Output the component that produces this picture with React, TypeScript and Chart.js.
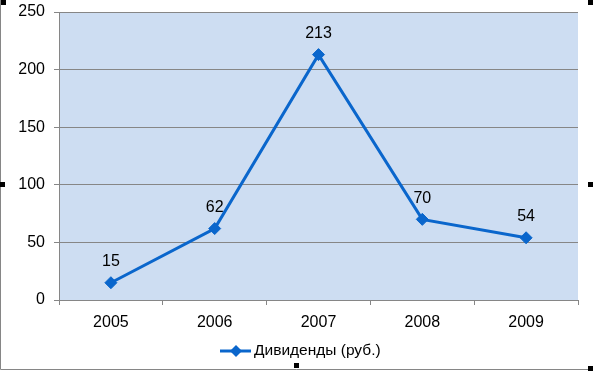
import React, { useEffect, useRef } from "react";
import { Chart, registerables } from "chart.js";

Chart.register(...registerables);

const categories = ["2005", "2006", "2007", "2008", "2009"];
const dividends = [15, 62, 213, 70, 54];
const seriesLabel = "Дивиденды (руб.)";
const yTicks = [0, 50, 100, 150, 200, 250];

const LINE_COLOR = "#0A66CC";
const PLOT_BG = "#CDDDF2";
const AXIS_GRAY = "#868686";
const FONT = "Arial, 'Liberation Sans', sans-serif";

const decorPlugin = {
  id: "decor",
  beforeDraw(chart: any) {
    const { ctx, chartArea } = chart;
    ctx.save();
    ctx.fillStyle = "#ffffff";
    ctx.fillRect(0, 0, chart.width, chart.height);
    ctx.fillStyle = PLOT_BG;
    ctx.fillRect(chartArea.left, chartArea.top, chartArea.right - chartArea.left, chartArea.bottom - chartArea.top);
    ctx.restore();
  },
  afterDraw(chart: any) {
    const { ctx } = chart;
    ctx.save();
    ctx.strokeStyle = AXIS_GRAY;
    ctx.lineWidth = 1;
    ctx.beginPath();
    ctx.moveTo(0.5, 0);
    ctx.lineTo(0.5, 369.5);
    ctx.lineTo(593, 369.5);
    ctx.stroke();
    const meta = chart.getDatasetMeta(0);
    ctx.fillStyle = "#000000";
    ctx.font = `16px ${FONT}`;
    ctx.textAlign = "center";
    ctx.textBaseline = "middle";
    meta.data.forEach((pt: any, i: number) => {
      ctx.fillText(String(dividends[i]), pt.x, pt.y - 21);
    });
    const ly = 351;
    ctx.strokeStyle = LINE_COLOR;
    ctx.lineWidth = 3;
    ctx.beginPath();
    ctx.moveTo(220, ly);
    ctx.lineTo(251, ly);
    ctx.stroke();
    ctx.fillStyle = LINE_COLOR;
    ctx.beginPath();
    ctx.moveTo(236, ly - 6);
    ctx.lineTo(242, ly);
    ctx.lineTo(236, ly + 6);
    ctx.lineTo(230, ly);
    ctx.closePath();
    ctx.fill();
    ctx.fillStyle = "#000000";
    ctx.font = `15.5px ${FONT}`;
    ctx.textAlign = "left";
    ctx.fillText(seriesLabel, 254, ly);
    ctx.fillStyle = "#000000";
    const handles = [
      [1, 0], [588, 0], [0, 182], [588, 182], [294, 363], [588, 366],
    ];
    handles.forEach(([x, y]) => ctx.fillRect(x, y, 5, 5));
    ctx.restore();
  },
};

export default function App() {
  const ref = useRef<HTMLCanvasElement | null>(null);
  useEffect(() => {
    document.body.style.margin = "0";
    const chart = new Chart(ref.current as HTMLCanvasElement, {
      type: "line",
      data: {
        labels: categories,
        datasets: [
          {
            label: seriesLabel,
            data: dividends,
            borderColor: LINE_COLOR,
            backgroundColor: LINE_COLOR,
            borderWidth: 3,
            pointStyle: "rectRot",
            pointRadius: 6,
            pointBorderWidth: 1,
            tension: 0,
          },
        ],
      },
      options: {
        responsive: false,
        animation: false,
        layout: { padding: { left: 0, top: 12, right: 15, bottom: 0 } },
        plugins: { legend: { display: false }, tooltip: { enabled: false } },
        scales: {
          x: {
            offset: true,
            grid: {
              offset: true,
              drawOnChartArea: false,
              drawTicks: true,
              tickLength: 5,
              color: AXIS_GRAY,
            },
            border: { color: AXIS_GRAY },
            ticks: { color: "#000", font: { family: FONT, size: 16 }, padding: 8 },
            afterFit: (s: any) => {
              s.height = 71;
              s.paddingLeft = 0;
              s.paddingRight = 0;
            },
          },
          y: {
            min: 0,
            max: 250,
            afterBuildTicks: (s: any) => {
              s.ticks = yTicks.map((v) => ({ value: v }));
            },
            grid: { color: AXIS_GRAY, tickLength: 5 },
            border: { color: AXIS_GRAY },
            ticks: { color: "#000", font: { family: FONT, size: 16 }, padding: 9 },
            afterFit: (s: any) => {
              s.width = 59;
              s.paddingTop = 0;
              s.paddingBottom = 0;
            },
          },
        },
      },
      plugins: [decorPlugin],
    });
    return () => chart.destroy();
  }, []);
  return (
    <div style={{ position: "fixed", left: 0, top: 0, width: 593, height: 371 }}>
      <canvas ref={ref} width={593} height={371} style={{ width: 593, height: 371 }} />
    </div>
  );
}
